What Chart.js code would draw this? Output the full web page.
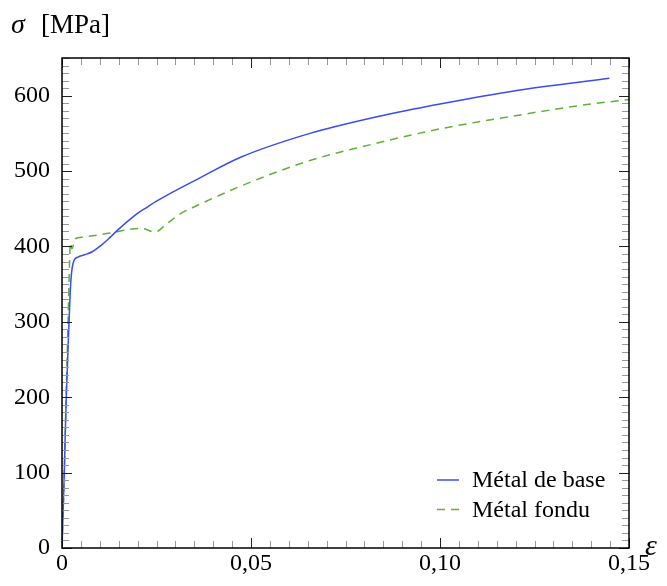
<!DOCTYPE html>
<html>
<head>
<meta charset="utf-8">
<script src="https://cdn.jsdelivr.net/npm/chart.js@4.4.1/dist/chart.umd.min.js"></script>
<style>
  html, body { margin: 0; padding: 0; background: #fff; }
</style>
</head>
<body>
<canvas id="chart" width="667" height="586"></canvas>
<script>
// strain / stress readings (epsilon [-], sigma [MPa])
const strainBase = [0, 0.0006, 0.0011, 0.00185, 0.0023, 0.0029, 0.0042, 0.006, 0.008, 0.010, 0.0125, 0.015, 0.0175, 0.020, 0.0225, 0.025, 0.030, 0.0365, 0.0471, 0.0656, 0.0833, 0.100, 0.1203, 0.1448];
const stressBase = [0, 100, 196, 298, 351, 377, 386, 389, 393, 400, 411, 423, 434, 444, 452, 460, 474, 491, 518, 550, 572, 589, 607, 623];

const strainFondu = [0, 0.0006, 0.0011, 0.0016, 0.0020, 0.0022, 0.0026, 0.0035, 0.0048, 0.0092, 0.0131, 0.0171, 0.0211, 0.0246, 0.0277, 0.0312, 0.0356, 0.0497, 0.0656, 0.0824, 0.100, 0.1194, 0.137, 0.150];
const stressFondu = [0, 100, 200, 300, 380, 405, 397, 410, 412, 415, 418, 422, 424, 419, 430, 443, 454, 485, 514, 536, 556, 573, 587, 595];

const seriesNames = ["Métal de base", "Métal fondu"];
const xTicks = [0, 0.05, 0.10, 0.15];
const xTickLabels = ["0", "0,05", "0,10", "0,15"];
const yTicks = [0, 100, 200, 300, 400, 500, 600];
const yTitleSymbol = "σ";
const yTitleUnit = "[MPa]";
const xTitle = "ε";

const serif = "'Liberation Serif', 'Times New Roman', serif";

function toPoints(xs, ys) {
  return xs.map((x, i) => ({ x: x, y: ys[i] }));
}

// frame, inward ticks, legend and axis names
const decor = {
  id: "decor",
  afterDatasetsDraw(chart) {
    const ctx = chart.ctx;
    const a = chart.chartArea;
    const sx = chart.scales.x, sy = chart.scales.y;
    ctx.save();

    // x ticks (top and bottom)
    for (let i = 0; i <= 30; i++) {
      const v = i * 0.005;
      const px = Math.round(sx.getPixelForValue(v)) + 0.5;
      const major = i % 10 === 0;
      const len = major ? 10 : 7;
      ctx.strokeStyle = major ? "#222" : "#999";
      ctx.lineWidth = 1;
      ctx.beginPath();
      ctx.moveTo(px, a.bottom); ctx.lineTo(px, a.bottom - len);
      ctx.moveTo(px, a.top); ctx.lineTo(px, a.top + len);
      ctx.stroke();
    }
    // y ticks (left and right)
    for (let i = 0; i <= 65; i++) {
      const v = i * 10;
      const py = Math.round(sy.getPixelForValue(v)) + 0.5;
      const major = i % 10 === 0;
      const len = major ? 10 : 7;
      ctx.strokeStyle = major ? "#222" : "#999";
      ctx.lineWidth = 1;
      ctx.beginPath();
      ctx.moveTo(a.left, py); ctx.lineTo(a.left + len, py);
      ctx.moveTo(a.right, py); ctx.lineTo(a.right - len, py);
      ctx.stroke();
    }

    // frame
    ctx.strokeStyle = "#000";
    ctx.lineWidth = 1.5;
    ctx.strokeRect(a.left, a.top, a.right - a.left, a.bottom - a.top);

    // legend
    ctx.font = "24px " + serif;
    ctx.textBaseline = "middle";
    ctx.fillStyle = "#000";
    chart.data.datasets.forEach((ds, i) => {
      const y = 480 + i * 29.5;
      ctx.strokeStyle = ds.borderColor;
      ctx.lineWidth = ds.borderWidth;
      ctx.setLineDash(ds.borderDash || []);
      ctx.beginPath();
      ctx.moveTo(437, y); ctx.lineTo(459, y);
      ctx.stroke();
      ctx.setLineDash([]);
      ctx.fillText(ds.label, 472, y + 1);
    });

    // axis names
    ctx.textBaseline = "alphabetic";
    ctx.font = "italic 28px " + serif;
    ctx.fillText(yTitleSymbol, 11, 33);
    ctx.font = "27px " + serif;
    ctx.fillText(yTitleUnit, 41, 33);
    ctx.font = "italic 30px " + serif;
    ctx.fillText(xTitle, 645, 555);
    ctx.restore();
  }
};

new Chart(document.getElementById("chart"), {
  type: "line",
  data: {
    datasets: [
      {
        label: seriesNames[0],
        data: toPoints(strainBase, stressBase),
        borderColor: "#3a4cf2",
        borderWidth: 1.5,
        pointRadius: 0,
        cubicInterpolationMode: "monotone",
        fill: false
      },
      {
        label: seriesNames[1],
        data: toPoints(strainFondu, stressFondu),
        borderColor: "#5cb335",
        borderWidth: 1.5,
        borderDash: [8, 6],
        pointRadius: 0,
        cubicInterpolationMode: "monotone",
        fill: false
      }
    ]
  },
  options: {
    responsive: false,
    animation: false,
    layout: { padding: { top: 58, right: 38, left: 0, bottom: 0 } },
    plugins: {
      legend: { display: false },
      title: { display: false },
      tooltip: { enabled: false }
    },
    scales: {
      x: {
        type: "linear",
        min: 0,
        max: 0.15,
        afterBuildTicks: (s) => { s.ticks = xTicks.map((v) => ({ value: v })); },
        afterFit: (s) => { s.height = 38; },
        grid: { display: false, drawTicks: false },
        border: { display: false },
        ticks: {
          padding: 1,
          color: "#000",
          font: { family: serif, size: 24 },
          maxRotation: 0,
          callback: (v) => xTickLabels[xTicks.indexOf(v)]
        }
      },
      y: {
        type: "linear",
        min: 0,
        max: 650,
        afterBuildTicks: (s) => { s.ticks = yTicks.map((v) => ({ value: v })); },
        afterFit: (s) => { s.width = 62; },
        grid: { display: false, drawTicks: false },
        border: { display: false },
        ticks: {
          padding: 12,
          color: "#000",
          font: { family: serif, size: 24 }
        }
      }
    }
  },
  plugins: [decor]
});
</script>
</body>
</html>
